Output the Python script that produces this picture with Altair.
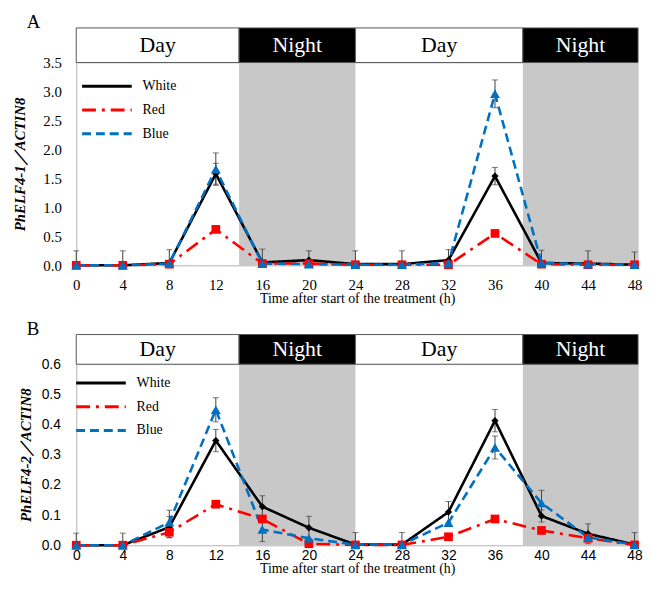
import altair as alt
import pandas as pd

# ---------------- data ----------------
hours = [0, 4, 8, 12, 16, 20, 24, 28, 32, 36, 40, 44, 48]
series_names = ["White", "Red", "Blue"]
series_colors = ["#000000", "#FF0000", "#0070C0"]
series_shapes = ["diamond", "square", "triangle-up"]

# Panel A: PhELF4-1 / ACTIN8
a_white = [0.0, 0.0, 0.04, 1.58, 0.05, 0.09, 0.02, 0.02, 0.09, 1.54, 0.04, 0.03, 0.01]
a_red = [0.0, 0.0, 0.02, 0.62, 0.03, 0.03, 0.01, 0.01, 0.01, 0.55, 0.02, 0.01, 0.01]
a_blue = [0.0, 0.0, 0.03, 1.66, 0.03, 0.02, 0.01, 0.01, 0.04, 2.96, 0.04, 0.02, 0.01]
a_white_err = [0.25, 0.25, 0.23, 0.18, 0.23, 0.16, 0.23, 0.23, 0.18, 0.15, 0.22, 0.22, 0.22]
a_red_err = [0, 0, 0, 0, 0, 0, 0, 0, 0, 0, 0, 0, 0]
a_blue_err = [0, 0, 0, 0.28, 0, 0, 0, 0, 0, 0.24, 0, 0, 0]

# Panel B: PhELF4-2 / ACTIN8
b_white = [0.0, 0.0, 0.06, 0.347, 0.128, 0.058, 0.002, 0.002, 0.11, 0.413, 0.097, 0.038, 0.002]
b_red = [0.0, 0.0, 0.043, 0.136, 0.087, 0.005, 0.001, 0.001, 0.028, 0.087, 0.049, 0.023, 0.001]
b_blue = [0.0, 0.0, 0.076, 0.449, 0.052, 0.023, 0.002, 0.002, 0.075, 0.324, 0.14, 0.026, 0.002]
b_white_err = [0.04, 0.04, 0.035, 0.037, 0.036, 0.038, 0.04, 0.04, 0.035, 0.037, 0.02, 0.033, 0.04]
b_red_err = [0, 0, 0.018, 0, 0, 0, 0, 0, 0, 0, 0, 0, 0]
b_blue_err = [0, 0, 0.04, 0.04, 0.04, 0, 0, 0, 0, 0.038, 0.042, 0, 0]

period_labels = ["Day", "Night", "Day", "Night"]
period_start = [0, 14, 24, 38.4]
period_end = [14, 24, 38.4, 48.3]

x_title = "Time after start of the treatment (h)"


def make_df(w, r, b, we, re, be):
    rows = []
    for name, vals, errs in zip(series_names, [w, r, b], [we, re, be]):
        for h, v, e in zip(hours, vals, errs):
            rows.append({"hour": h, "series": name, "value": v, "err": e,
                         "lo": max(v - e, 0.0), "hi": v + e})
    return pd.DataFrame(rows)


periods = pd.DataFrame({"label": period_labels, "start": period_start, "end": period_end})

W = 568
X_DOMAIN = [0, 48.3]


def panel(df, ymax, ystep, ytitle, tick_font, tick_size, height, band_h, letter,
          y_title_pad, y_label_pad, x_label_pad, x_title_pad, legend_x, legend_y):
    xs = alt.Scale(domain=X_DOMAIN, nice=False, zero=False)
    ys = alt.Scale(domain=[0, ymax], nice=False)
    nsteps = int(round(ymax / ystep))
    yvals = [round(i * ystep, 3) for i in range(nsteps + 1)]

    x_axis = alt.Axis(
        values=hours, title=x_title, grid=False, ticks=False, domainColor="#BFBFBF",
        labelFont=tick_font, labelFontSize=tick_size, labelColor="#000000",
        labelPadding=x_label_pad, titleFont="Liberation Serif", titleFontSize=14,
        titleFontWeight="normal", titleColor="#000000", titlePadding=x_title_pad,
        labelFlush=False)
    y_axis = alt.Axis(
        values=yvals, format=".1f", title=ytitle, grid=False, ticks=False,
        domainColor="#BFBFBF", labelFont=tick_font, labelFontSize=tick_size,
        labelColor="#000000", labelPadding=y_label_pad, titleFont="Liberation Serif",
        titleFontSize=15, titleFontWeight="bold", titleFontStyle="italic",
        titleColor="#000000", titlePadding=y_title_pad)

    def X(field):
        return alt.X(field, scale=xs, axis=x_axis)

    def Y(field):
        return alt.Y(field, scale=ys, axis=y_axis)

    night = alt.Chart(periods).transform_filter(alt.datum.label == "Night").mark_rect(
        fill="#C8C8C8", stroke=None).encode(
        x=X("start:Q"), x2="end:Q",
        y=alt.value(0), y2=alt.value(height))

    band = alt.Chart(periods).mark_rect(stroke="#555555", strokeWidth=1).encode(
        x=X("start:Q"), x2="end:Q",
        y=alt.value(-band_h), y2=alt.value(0),
        fill=alt.condition(alt.datum.label == "Day", alt.value("white"), alt.value("black")))

    band_text = alt.Chart(periods).transform_calculate(
        mid="(datum.start + datum.end) / 2").mark_text(
        font="Liberation Serif", fontSize=22, baseline="middle", align="center").encode(
        x=X("mid:Q"), y=alt.value(-band_h / 2),
        text="label:N",
        color=alt.condition(alt.datum.label == "Day", alt.value("black"), alt.value("white")))

    letter_mark = alt.Chart(periods).transform_filter(alt.datum.start == 0).mark_text(
        font="Liberation Serif", fontSize=19, baseline="top", align="left",
        color="#000000").encode(
        x=alt.value(-50), y=alt.value(-band_h - 15), text=alt.value(letter))

    err_df = df[df["err"] > 0]
    err_rule = alt.Chart(err_df).mark_rule(color="#404040", strokeWidth=1).encode(
        x=X("hour:Q"), y=Y("lo:Q"), y2="hi:Q")
    err_cap = alt.Chart(err_df).transform_fold(["lo", "hi"], as_=["k", "v"]).mark_tick(
        orient="horizontal", size=6, thickness=1, color="#404040").encode(
        x=X("hour:Q"), y=Y("v:Q"))

    leg = alt.Legend(title=None, orient="none", legendX=legend_x, legendY=legend_y,
                     symbolType="M-3,0H3", symbolSize=280, symbolStrokeWidth=3,
                     labelFont="Liberation Serif", labelFontSize=14, labelColor="#000000",
                     rowPadding=7, labelOffset=26)
    lines = alt.Chart(df).mark_line(strokeWidth=2.6).encode(
        x=X("hour:Q"), y=Y("value:Q"),
        color=alt.Color("series:N", scale=alt.Scale(domain=series_names, range=series_colors),
                        legend=leg),
        strokeDash=alt.StrokeDash("series:N", scale=alt.Scale(
            domain=series_names, range=[[1, 0], [14, 6, 3, 6], [9, 5]]), legend=leg),
    )
    pts = alt.Chart(df).mark_point(filled=True, opacity=1).encode(
        x=X("hour:Q"), y=Y("value:Q"),
        color=alt.Color("series:N", scale=alt.Scale(domain=series_names, range=series_colors),
                        legend=None),
        shape=alt.Shape("series:N", scale=alt.Scale(domain=series_names, range=series_shapes),
                        legend=None),
        size=alt.Size("series:N", scale=alt.Scale(domain=series_names, range=[55, 100, 110]),
                      legend=None),
    )

    return alt.layer(night, band, band_text, letter_mark, err_rule, err_cap, lines,
                     pts).properties(width=W, height=height)


df_a = make_df(a_white, a_red, a_blue, a_white_err, a_red_err, a_blue_err)
df_b = make_df(b_white, b_red, b_blue, b_white_err, b_red_err, b_blue_err)

pa = panel(df_a, 3.5, 0.5, "PhELF4-1／ACTIN8", "Liberation Serif", 15, 205, 35, "A",
           y_title_pad=16, y_label_pad=15, x_label_pad=12, x_title_pad=0,
           legend_x=21, legend_y=14)
pb = panel(df_b, 0.6, 0.1, "PhELF4-2／ACTIN8", "Liberation Sans", 14, 183, 30, "B",
           y_title_pad=8, y_label_pad=16, x_label_pad=3, x_title_pad=0,
           legend_x=15, legend_y=9)

chart = alt.vconcat(pa, pb, spacing=12).resolve_legend(
    color="independent", strokeDash="independent").resolve_scale(
    color="independent", strokeDash="independent").properties(
    padding={"left": 3, "top": 1, "right": 0, "bottom": 0}).configure_view(
    stroke=None).configure(background="white")

chart.save("out.html", embed_options={"renderer": "svg", "actions": False})
